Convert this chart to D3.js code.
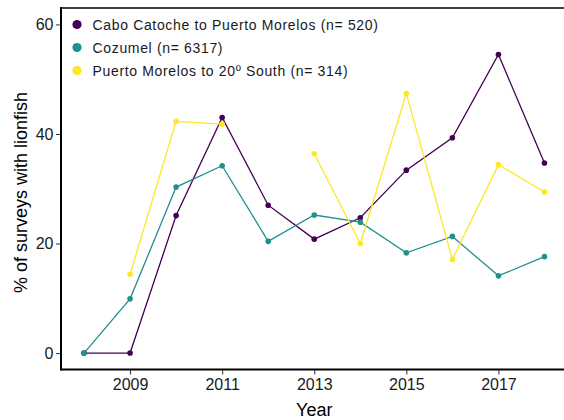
<!DOCTYPE html>
<html>
<head>
<meta charset="utf-8">
<script src="https://cdn.jsdelivr.net/npm/d3@7/dist/d3.min.js"></script>
<style>
  html, body { margin: 0; padding: 0; background: #fff; }
  svg { display: block; font-family: "Liberation Sans", Arial, Helvetica, sans-serif; }
</style>
</head>
<body>
<svg id="chart" width="564" height="420"></svg>
<script>
// Survey years
const years = [2008, 2009, 2010, 2011, 2012, 2013, 2014, 2015, 2016, 2017, 2018];

// % of surveys with lionfish per region (null = no surveys that year)
const caboCatoche = [0, 0, 25.1, 43.0, 27.0, 20.8, 24.7, 33.4, 39.3, 54.5, 34.7];
const cozumel = [0, 9.9, 30.3, 34.2, 20.4, 25.2, 23.9, 18.3, 21.3, 14.1, 17.6];
const puertoMorelos = [null, 14.4, 42.3, 41.8, null, 36.4, 20.0, 47.4, 17.1, 34.4, 29.4];

const seriesNames = [
  "Cabo Catoche to Puerto Morelos (n= 520)",
  "Cozumel (n= 6317)",
  "Puerto Morelos to 20º South (n= 314)"
];
const seriesColors = ["#440154", "#21908C", "#FDE725"];
const seriesValues = [caboCatoche, cozumel, puertoMorelos];

const xTicks = [2009, 2011, 2013, 2015, 2017];
const yTicks = [0, 20, 40, 60];

const svg = d3.select("#chart");
const panel = { left: 61, right: 567.5, top: 8, bottom: 369.5 };

const x = d3.scaleLinear().domain([2007.5, 2018.5]).range([panel.left, panel.right]);
const y = d3.scaleLinear().domain([-3, 63]).range([panel.bottom, panel.top]);

// Series lines and points
const line = d3.line()
  .defined(d => d.v !== null)
  .x(d => x(d.year))
  .y(d => y(d.v));

const series = seriesValues.map((vals, i) => ({
  name: seriesNames[i],
  color: seriesColors[i],
  points: years.map((yr, j) => ({ year: yr, v: vals[j] }))
}));

const g = svg.append("g");
series.forEach(s => {
  g.append("path")
    .datum(s.points)
    .attr("fill", "none")
    .attr("stroke", s.color)
    .attr("stroke-width", 1.3)
    .attr("d", line);
  g.selectAll(null)
    .data(s.points.filter(d => d.v !== null))
    .enter().append("circle")
    .attr("cx", d => x(d.year))
    .attr("cy", d => y(d.v))
    .attr("r", 2.8)
    .attr("fill", s.color);
});

// Axes
const xAxis = d3.axisBottom(x).tickValues(xTicks).tickFormat(d3.format("d")).tickSize(5).tickPadding(3);
const yAxis = d3.axisLeft(y).tickValues(yTicks).tickSize(5).tickPadding(2.5);

const gx = svg.append("g").attr("transform", `translate(0,${panel.bottom})`).call(xAxis);
const gy = svg.append("g").attr("transform", `translate(${panel.left},0)`).call(yAxis);

[gx, gy].forEach(a => {
  a.select(".domain").remove();
  a.selectAll(".tick line").attr("stroke", "#333").attr("stroke-width", 1);
  a.selectAll(".tick text").attr("fill", "#1a1a1a").attr("font-size", 16);
});
gx.selectAll(".tick text").attr("dy", "0.8em");

// axis lines
svg.append("line")
  .attr("x1", panel.left).attr("x2", 564)
  .attr("y1", panel.bottom).attr("y2", panel.bottom)
  .attr("stroke", "#000").attr("stroke-width", 2);
svg.append("line")
  .attr("x1", panel.left).attr("x2", panel.left)
  .attr("y1", panel.top - 1).attr("y2", panel.bottom + 1)
  .attr("stroke", "#000").attr("stroke-width", 2);
svg.append("line")
  .attr("x1", panel.left).attr("x2", 564)
  .attr("y1", panel.top).attr("y2", panel.top)
  .attr("stroke", "#000").attr("stroke-width", 1.5);

// Axis titles
svg.append("text")
  .attr("x", x(2013))
  .attr("y", 416)
  .attr("text-anchor", "middle")
  .attr("font-size", 18)
  .attr("fill", "#000")
  .text("Year");

svg.append("text")
  .attr("transform", "translate(27,192.5) rotate(-90)")
  .attr("text-anchor", "middle")
  .attr("font-size", 18)
  .attr("fill", "#000")
  .text("% of surveys with lionfish");

// Legend
const legend = svg.append("g").attr("transform", "translate(77,24.5)");
series.forEach((s, i) => {
  const row = legend.append("g").attr("transform", `translate(0,${i * 23})`);
  row.append("circle").attr("r", 4.6).attr("fill", s.color);
  row.append("text")
    .attr("x", 15.5)
    .attr("dy", "0.36em")
    .attr("font-size", 14)
    .attr("letter-spacing", 0.66)
    .attr("fill", "#1a1a1a")
    .text(s.name);
});
</script>
</body>
</html>
